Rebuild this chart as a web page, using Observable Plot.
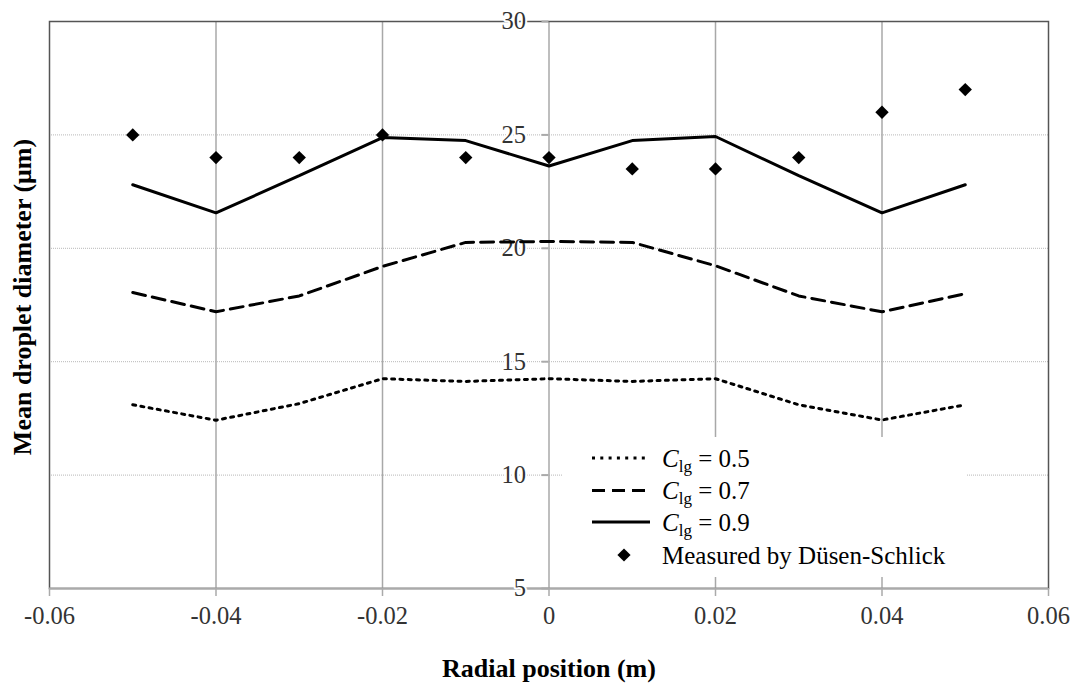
<!DOCTYPE html>
<html>
<head>
<meta charset="utf-8">
<script src="https://cdn.jsdelivr.net/npm/d3@7"></script>
<script src="https://cdn.jsdelivr.net/npm/@observablehq/plot@0.6"></script>
<style>
  html, body { margin: 0; padding: 0; background: #fff; }
  #chart { position: relative; width: 1073px; height: 692px; }
  #chart, #chart svg, #chart text { font-family: "Liberation Serif", Tinos, "Times New Roman", "DejaVu Serif", serif; }
  #legend { position: absolute; left: 562px; top: 437px; }
</style>
</head>
<body>
<div id="chart"></div>
<script>
// ---- data ----
const radial   = [-0.05, -0.04, -0.03, -0.02, -0.01, 0, 0.01, 0.02, 0.03, 0.04, 0.05];
const clg05    = [13.1, 12.42, 13.15, 14.25, 14.13, 14.25, 14.13, 14.25, 13.1, 12.43, 13.1];
const clg07    = [18.05, 17.2, 17.9, 19.2, 20.26, 20.3, 20.26, 19.23, 17.9, 17.2, 18.0];
const clg09    = [22.8, 21.56, 23.2, 24.88, 24.75, 23.63, 24.75, 24.93, 23.2, 21.56, 22.8];
const measured = [25, 24, 24, 25, 24, 24, 23.5, 23.5, 24, 26, 27];

const xTicks = [-0.06, -0.04, -0.02, 0, 0.02, 0.04, 0.06];
const yTicks = [5, 10, 15, 20, 25, 30];
const xGrid  = [-0.04, -0.02, 0, 0.02, 0.04];
const yGrid  = [10, 15, 20, 25];

const seriesLabels = ["0.5", "0.7", "0.9"];
const seriesDash   = ["3,5.3", "13,7", null];
const seriesWidth  = [3, 3, 3];
const measuredLabel = "Measured by Düsen-Schlick";
const xTitle = "Radial position (m)";
const yTitle = "Mean droplet diameter (μm)";

const serif = "Liberation Serif, Tinos, Times New Roman, DejaVu Serif, serif";
const fmtX = d => d === 0 ? "0" : d.toFixed(2);

const seriesValues = [clg05, clg07, clg09];

const chart = Plot.plot({
  width: 1073,
  height: 692,
  marginLeft: 49,
  marginRight: 25,
  marginTop: 21,
  marginBottom: 104,
  style: { background: "white", overflow: "visible" },
  x: { domain: [-0.06, 0.06] },
  y: { domain: [5, 30], axis: null },
  marks: [
    Plot.ruleY(yGrid, { stroke: "#b8b8b8", strokeWidth: 1, strokeDasharray: "1,1" }),
    Plot.ruleX(xGrid, { stroke: "#a8a8a8", strokeWidth: 1.5 }),
    Plot.frame({ stroke: "#555", strokeWidth: 1.5 }),
    Plot.ruleY([5], { stroke: "#aaa", strokeWidth: 2 }),
    Plot.axisX({
      ticks: xTicks, tickFormat: fmtX, tickSize: 8, tickPadding: 10,
      stroke: "#aaa", strokeWidth: 1.5, fill: "#333", fontSize: 24.5, fontFamily: serif, label: null
    }),
    Plot.ruleY(yTicks, { x1: 0, x2: 0, insetLeft: -7, stroke: "#aaa", strokeWidth: 2 }),
    Plot.text(yTicks, {
      x: 0, y: d => d, text: d => String(d), textAnchor: "end", dx: -23,
      fontSize: 24.5, fontFamily: serif, fill: "#333", stroke: "white", strokeWidth: 4, paintOrder: "stroke"
    }),
    ...seriesValues.map((vals, i) => Plot.line(vals, {
      x: radial, y: vals, stroke: "black", strokeWidth: seriesWidth[i],
      strokeDasharray: seriesDash[i] || undefined, strokeLinejoin: "miter"
    })),
    Plot.dot(measured, { x: radial, y: measured, symbol: "diamond2", r: 6, fill: "black", stroke: "none" }),
    Plot.text([xTitle], {
      frameAnchor: "bottom", dy: 88, text: d => d, fontSize: 26, fontWeight: "bold",
      fontFamily: serif, fill: "black", textAnchor: "middle"
    }),
    Plot.text([yTitle], {
      frameAnchor: "left", dx: -27, dy: -8, rotate: -90, text: d => d,
      fontSize: 26, fontWeight: "bold", fontFamily: serif, fill: "black", textAnchor: "middle"
    })
  ]
});

const host = document.getElementById("chart");
host.appendChild(chart);

// ---- legend (inside the plot, white box) ----
const rowY = [21, 53.5, 85, 118];
let svg = `<svg xmlns="http://www.w3.org/2000/svg" width="405" height="140" font-family="${serif}">`;
svg += `<rect x="0" y="0" width="405" height="140" fill="white"/>`;
seriesLabels.forEach((lab, i) => {
  const y = rowY[i];
  svg += `<line x1="30" x2="88" y1="${y}" y2="${y}" stroke="black" stroke-width="${seriesWidth[i]}"` +
         (seriesDash[i] ? ` stroke-dasharray="${seriesDash[i]}"` : "") + `/>`;
  svg += `<text x="100" y="${y + 8.5}" font-size="25" fill="black">` +
         `<tspan font-style="italic">C</tspan>` +
         `<tspan font-size="17" dy="5">lg</tspan>` +
         `<tspan dy="-5"> = ${lab}</tspan></text>`;
});
{
  const y = rowY[3];
  const s = 6.6;
  svg += `<path d="M${62},${y - s}L${62 + s},${y}L${62},${y + s}L${62 - s},${y}Z" fill="black"/>`;
  svg += `<text x="100" y="${y + 8.5}" font-size="25" fill="black">${measuredLabel}</text>`;
}
svg += `</svg>`;
const leg = document.createElement("div");
leg.id = "legend";
leg.innerHTML = svg;
host.appendChild(leg);
</script>
</body>
</html>
